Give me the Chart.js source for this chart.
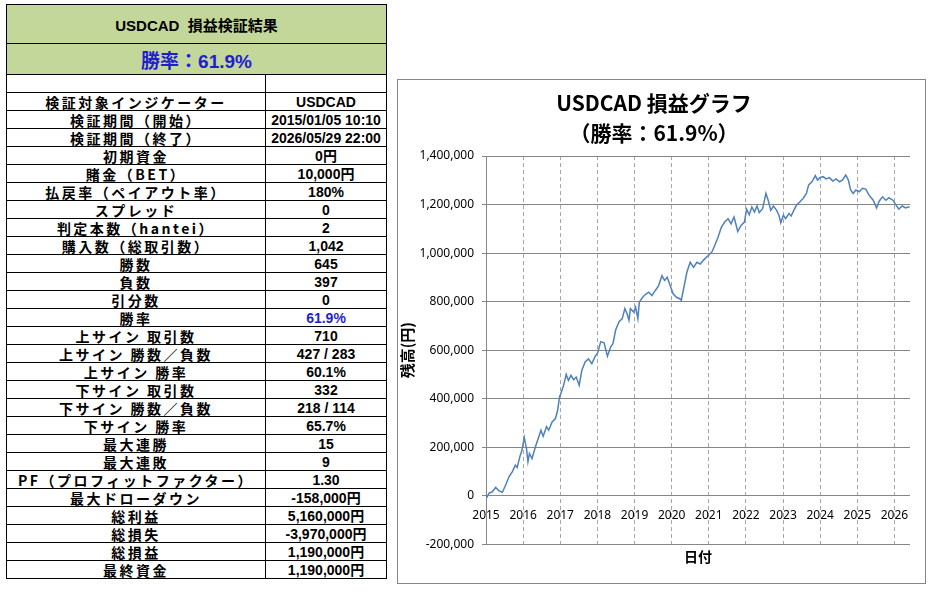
<!DOCTYPE html>
<html>
<head>
<meta charset="utf-8">
<script src="https://cdn.jsdelivr.net/npm/chart.js@4/dist/chart.umd.min.js"></script>
<style>
  body { margin: 0; background: #fff; width: 933px; height: 592px; overflow: hidden; position: relative; }
  #tbl { position: absolute; left: 6px; top: 4px; width: 380px; border-collapse: collapse; table-layout: fixed; }
  #tbl td { border: 1px solid #000; padding: 0; text-align: center; font-weight: bold; white-space: nowrap; overflow: hidden; color: #000; }
  #tbl tr.row { height: 18px; }
  #tbl tr.row td { line-height: 16px; font-size: 14px; }
  #tbl td.lbl { font-family: 'Noto Sans CJK JP', sans-serif; letter-spacing: 2.5px; }
  #tbl td.val { font-family: 'Liberation Sans', Arial, 'Noto Sans CJK JP', sans-serif; }
  #tbl tr.head td { background: #C4D79B; }
  #tbl .t1 { height: 38px; font-size: 15px; font-family: 'Liberation Sans', Arial, 'Noto Sans CJK JP', sans-serif; }
  #tbl .t2 { height: 30px; font-size: 19px; color: #1F1FD0; font-family: 'Liberation Sans', Arial, 'Noto Sans CJK JP', sans-serif; }
  .blue { color: #1F1FD0 !important; }
  #box { position: absolute; left: 397px; top: 79px; width: 527px; height: 503px; border: 1px solid #868686; }
</style>
</head>
<body>
<table id="tbl">
  <colgroup><col style="width:259px"><col style="width:121px"></colgroup>
  <tbody id="tb">
    <tr class="head"><td colspan="2" class="t1">USDCAD&nbsp;&nbsp;損益検証結果</td></tr>
    <tr class="head"><td colspan="2" class="t2">勝率：61.9%</td></tr>
    <tr class="row"><td></td><td></td></tr>
  </tbody>
</table>
<div id="box"><canvas id="c" width="527" height="503"></canvas></div>
<script>
// 検証結果テーブル
var statLabels = ['検証対象インジケーター', '検証期間（開始）', '検証期間（終了）', '初期資金', '賭金（BET）',
  '払戻率（ペイアウト率）', 'スプレッド', '判定本数（hantei）', '購入数（総取引数）', '勝数', '負数', '引分数', '勝率',
  '上サイン 取引数', '上サイン 勝数／負数', '上サイン 勝率', '下サイン 取引数', '下サイン 勝数／負数', '下サイン 勝率',
  '最大連勝', '最大連敗', 'PF（プロフィットファクター）', '最大ドローダウン', '総利益', '総損失', '総損益', '最終資金'];
var statValues = ['USDCAD', '2015/01/05 10:10', '2026/05/29 22:00', '0円', '10,000円',
  '180%', '0', '2', '1,042', '645', '397', '0', '61.9%',
  '710', '427 / 283', '60.1%', '332', '218 / 114', '65.7%',
  '15', '9', '1.30', '-158,000円', '5,160,000円', '-3,970,000円', '1,190,000円', '1,190,000円'];

// 損益グラフ
var years = [2015, 2016, 2017, 2018, 2019, 2020, 2021, 2022, 2023, 2024, 2025, 2026];
var yTicks = [-200000, 0, 200000, 400000, 600000, 800000, 1000000, 1200000, 1400000];
var dates = [2015.00, 2015.03, 2015.08, 2015.17, 2015.26, 2015.35, 2015.44, 2015.53, 2015.62, 2015.71,
  2015.79, 2015.84, 2015.91, 2015.97, 2016.03, 2016.09, 2016.13, 2016.17, 2016.24, 2016.33,
  2016.42, 2016.48, 2016.54, 2016.63, 2016.69, 2016.78, 2016.87, 2016.93, 2016.98, 2017.03,
  2017.09, 2017.16, 2017.22, 2017.29, 2017.36, 2017.43, 2017.51, 2017.58, 2017.67, 2017.76,
  2017.85, 2017.94, 2018.01, 2018.09, 2018.18, 2018.27, 2018.36, 2018.42, 2018.49, 2018.58,
  2018.67, 2018.74, 2018.80, 2018.85, 2018.89, 2018.98, 2019.03, 2019.09, 2019.13, 2019.22,
  2019.29, 2019.38, 2019.47, 2019.56, 2019.65, 2019.74, 2019.81, 2019.88, 2019.96, 2020.04,
  2020.13, 2020.22, 2020.26, 2020.33, 2020.41, 2020.50, 2020.59, 2020.68, 2020.77, 2020.86,
  2020.95, 2021.01, 2021.09, 2021.16, 2021.25, 2021.34, 2021.43, 2021.52, 2021.60, 2021.68,
  2021.74, 2021.78, 2021.87, 2021.96, 2022.02, 2022.09, 2022.16, 2022.23, 2022.30, 2022.36,
  2022.45, 2022.49, 2022.54, 2022.60, 2022.67, 2022.74, 2022.83, 2022.89, 2022.94, 2023.01,
  2023.07, 2023.16, 2023.22, 2023.29, 2023.36, 2023.45, 2023.54, 2023.63, 2023.69, 2023.78,
  2023.87, 2023.93, 2023.99, 2024.08, 2024.16, 2024.25, 2024.34, 2024.43, 2024.52, 2024.60,
  2024.69, 2024.76, 2024.82, 2024.89, 2024.96, 2025.05, 2025.14, 2025.23, 2025.29, 2025.35,
  2025.43, 2025.52, 2025.59, 2025.68, 2025.77, 2025.85, 2025.96, 2026.05, 2026.12, 2026.21,
  2026.30, 2026.37, 2026.41];
var balance = [0, -5000, 10000, 16000, 34000, 20000, 14000, 44000, 78000, 99000,
  126000, 116000, 160000, 188000, 240000, 195000, 140000, 174000, 153000, 201000,
  242000, 270000, 245000, 284000, 270000, 304000, 318000, 352000, 407000, 427000,
  455000, 500000, 475000, 496000, 478000, 489000, 455000, 516000, 551000, 564000,
  544000, 574000, 590000, 635000, 630000, 575000, 614000, 627000, 682000, 716000,
  730000, 771000, 750000, 723000, 771000, 757000, 777000, 730000, 798000, 818000,
  829000, 839000, 825000, 846000, 866000, 907000, 887000, 900000, 866000, 832000,
  818000, 812000, 805000, 859000, 921000, 962000, 941000, 962000, 955000, 971000,
  985000, 993000, 1006000, 1031000, 1065000, 1107000, 1128000, 1142000, 1121000, 1149000,
  1114000, 1089000, 1114000, 1128000, 1181000, 1158000, 1190000, 1169000, 1194000, 1167000,
  1183000, 1211000, 1246000, 1218000, 1176000, 1194000, 1176000, 1156000, 1125000, 1156000,
  1142000, 1163000, 1153000, 1176000, 1197000, 1211000, 1225000, 1246000, 1281000, 1294000,
  1319000, 1301000, 1311000, 1315000, 1306000, 1311000, 1297000, 1306000, 1294000, 1301000,
  1322000, 1301000, 1260000, 1246000, 1260000, 1253000, 1267000, 1264000, 1246000, 1232000,
  1218000, 1186000, 1214000, 1232000, 1218000, 1228000, 1218000, 1197000, 1181000, 1194000,
  1186000, 1190000, 1190000];

var tb = document.getElementById('tb');
statLabels.forEach(function(label, i) {
  var tr = document.createElement('tr');
  tr.className = 'row';
  var a = document.createElement('td');
  a.className = 'lbl';
  a.textContent = label;
  var b = document.createElement('td');
  b.className = 'val' + (label === '勝率' ? ' blue' : '');
  b.textContent = statValues[i];
  tr.appendChild(a);
  tr.appendChild(b);
  tb.appendChild(tr);
});

var tickFont = { family: "'Noto Sans', sans-serif", size: 12 };
var jpFont = "'Noto Sans CJK JP', sans-serif";

new Chart(document.getElementById('c'), {
  type: 'line',
  data: {
    datasets: [{
      data: dates.map(function(d, i) { return { x: d, y: balance[i] }; }),
      borderColor: '#4F81BD',
      borderWidth: 1.5,
      pointRadius: 0,
      tension: 0
    }]
  },
  options: {
    responsive: false,
    animation: false,
    layout: { padding: { left: 0, right: 15, top: 0, bottom: 8 } },
    plugins: {
      legend: { display: false },
      tooltip: { enabled: false },
      title: {
        display: true,
        text: ['USDCAD 損益グラフ', '（勝率：61.9%）'],
        color: '#000',
        font: { family: jpFont, size: 21, weight: 'bold', lineHeight: 1.43 },
        padding: { top: 8, bottom: 8 }
      },
      subtitle: {
        display: true,
        position: 'bottom',
        fullSize: false,
        text: '日付',
        color: '#000',
        font: { family: jpFont, size: 14, weight: 'bold' },
        padding: { top: 4, bottom: 10 }
      }
    },
    scales: {
      x: {
        type: 'linear',
        position: { y: 0 },
        min: 2015,
        max: 2026.42,
        afterBuildTicks: function(s) { s.ticks = years.map(function(v) { return { value: v }; }); },
        ticks: { callback: function(v) { return String(v); }, color: '#000', font: tickFont, maxRotation: 0, autoSkip: false, padding: 13 },
        grid: { color: '#A6A6A6', drawTicks: false },
        border: { display: false, dash: [4, 3] }
      },
      y: {
        min: -200000,
        max: 1400000,
        afterBuildTicks: function(s) { s.ticks = yTicks.map(function(v) { return { value: v }; }); },
        afterFit: function(s) { s.width = 88; },
        ticks: { callback: function(v) { return v.toLocaleString('en-US'); }, color: '#000', font: tickFont, padding: 8 },
        grid: { color: '#868686', tickLength: 4, tickColor: '#868686' },
        border: { color: '#868686' },
        title: { display: true, text: '残高(円)', color: '#000', font: { family: jpFont, size: 15, weight: 'bold' }, padding: { top: 0, bottom: 0 } }
      }
    }
  }
});
</script>
</body>
</html>
